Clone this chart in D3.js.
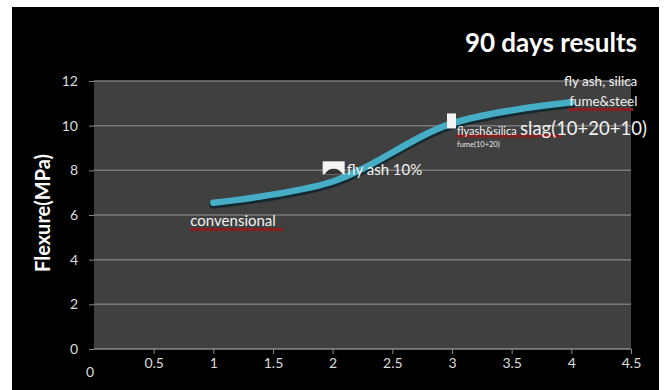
<!DOCTYPE html>
<html>
<head>
<meta charset="utf-8">
<script src="https://cdn.jsdelivr.net/npm/d3@7"></script>
<style>
  html, body { margin: 0; padding: 0; background: #fff; }
  svg { display: block; }
  text { font-family: Lato, "Open Sans", sans-serif; }
</style>
</head>
<body>
<div id="chart"></div>
<script>
// data
const xValues = [1, 2, 3, 4];
const flexure = [6.55, 7.5, 10.1, 11.05];
const pointLabels = ["convensional", "fly ash 10%", "flyash&silica", "fly ash, silica"];
const xTicks = [0.5, 1, 1.5, 2, 2.5, 3, 3.5, 4, 4.5];
const yTicks = [0, 2, 4, 6, 8, 10, 12];

const W = 665, H = 390;
const svg = d3.select("#chart").append("svg")
    .attr("width", W)
    .attr("height", H);

// black panel
svg.append("rect")
    .attr("x", 12).attr("y", 7)
    .attr("width", 647).attr("height", H - 7)
    .attr("fill", "#000");

const x = d3.scaleLinear().domain([0, 4.5]).range([94, 631]);
const y = d3.scaleLinear().domain([0, 12]).range([349, 81]);

// plot area
svg.append("rect")
    .attr("x", x(0)).attr("y", y(12))
    .attr("width", x(4.5) - x(0)).attr("height", y(0) - y(12))
    .attr("fill", "#404040");

// gridlines
svg.append("g")
    .selectAll("line")
    .data(yTicks.filter(d => d > 0))
    .enter().append("line")
    .attr("x1", x(0)).attr("x2", x(4.5))
    .attr("y1", d => y(d)).attr("y2", d => y(d))
    .attr("stroke", "#7a7a7a")
    .attr("stroke-width", 1.5);

// y axis
const yAxis = svg.append("g")
    .attr("transform", "translate(" + x(0) + ",0)")
    .call(d3.axisLeft(y).tickValues(yTicks).tickSize(5).tickPadding(11));
yAxis.select(".domain").remove();
yAxis.selectAll("line").attr("stroke", "#888");
yAxis.selectAll("text")
    .attr("fill", "#dcdcdc")
    .style("font-size", "14px")
    .style("font-family", "Lato, sans-serif");

// x axis
const xAxis = svg.append("g")
    .attr("transform", "translate(0," + y(0) + ")")
    .call(d3.axisBottom(x).tickValues(xTicks).tickSize(5).tickPadding(4)
        .tickFormat(d3.format("")));
xAxis.select(".domain")
    .attr("d", "M" + x(0) + ",0H" + x(4.5))
    .attr("stroke", "#8a8a8a")
    .attr("stroke-width", 1.5);
xAxis.selectAll("line").attr("stroke", "#888");
xAxis.selectAll("text")
    .attr("fill", "#dcdcdc")
    .style("font-size", "14px")
    .style("font-family", "Lato, sans-serif");

// the lone "0" of the x axis sits lower
svg.append("text")
    .attr("x", x(0) - 4).attr("y", y(0) + 28)
    .attr("text-anchor", "middle")
    .attr("fill", "#dcdcdc")
    .style("font-size", "14px")
    .text("0");

// the curve
const pts = xValues.map((v, i) => [v, flexure[i]]);
const line = d3.line()
    .x(d => x(d[0]))
    .y(d => y(d[1]))
    .curve(d3.curveCatmullRom.alpha(0.5));

svg.append("path")
    .datum(pts)
    .attr("d", line)
    .attr("transform", "translate(0,2)")
    .attr("fill", "none")
    .attr("stroke", "#152a30")
    .attr("stroke-width", 8)
    .attr("stroke-linecap", "round");

svg.append("path")
    .datum(pts)
    .attr("d", line)
    .attr("fill", "none")
    .attr("stroke", "#45adc6")
    .attr("stroke-width", 6.5)
    .attr("stroke-linecap", "round");

// spell-check underlines
function squiggle(x0, x1, yy) {
    svg.append("rect")
        .attr("x", x0).attr("y", yy)
        .attr("width", x1 - x0).attr("height", 3)
        .attr("fill", "#8a1e1e");
}

// point 1 label
squiggle(x(1) - 23, x(1) + 70, 228);
svg.append("text")
    .attr("x", x(1) - 23).attr("y", y(flexure[0]) + 23)
    .attr("fill", "#f2f2f2")
    .style("font-size", "15px")
    .text(pointLabels[0]);

// point 2 marker + label
const m2x = x(2), m2y = y(8);
svg.append("rect")
    .attr("x", m2x - 10).attr("y", m2y - 9)
    .attr("width", 22).attr("height", 13)
    .attr("fill", "#f4f4f4");
svg.append("path")
    .attr("d", "M" + (m2x - 8) + "," + (m2y + 4) + " A10,10 0 0 1 " + (m2x + 10) + "," + (m2y + 4) + " Z")
    .attr("fill", "#333");
svg.append("text")
    .attr("x", m2x + 14).attr("y", m2y + 5)
    .attr("fill", "#f2f2f2")
    .style("font-size", "15px")
    .text(pointLabels[1]);

// point 3 marker + label
const m3x = x(3), m3y = y(10.1);
svg.append("rect")
    .attr("x", m3x - 5).attr("y", m3y - 10)
    .attr("width", 9).attr("height", 15)
    .attr("fill", "#f4f4f4");
squiggle(m3x + 4, m3x + 110, m3y + 11);
svg.append("text")
    .attr("x", m3x + 5).attr("y", m3y + 12)
    .attr("fill", "#f2f2f2")
    .style("font-size", "11px")
    .text(pointLabels[2]);
svg.append("text")
    .attr("x", m3x + 68).attr("y", m3y + 12)
    .attr("fill", "#f2f2f2")
    .style("font-size", "18.5px")
    .text("slag(10+20+10)");
svg.append("text")
    .attr("x", m3x + 5).attr("y", m3y + 24)
    .attr("fill", "#e6e6e6")
    .style("font-size", "7.5px")
    .text("fume(10+20)");

// point 4 label
squiggle(x(4) - 3, x(4) + 62, 108);
svg.append("text")
    .attr("x", x(4) + 66).attr("y", y(12) + 5)
    .attr("text-anchor", "end")
    .attr("fill", "#f2f2f2")
    .style("font-size", "13.5px")
    .text(pointLabels[3]);
svg.append("text")
    .attr("x", x(4) + 66).attr("y", y(12) + 25)
    .attr("text-anchor", "end")
    .attr("fill", "#f2f2f2")
    .style("font-size", "13.5px")
    .text("fume&steel");

// title
svg.append("text")
    .attr("x", 637).attr("y", 52)
    .attr("text-anchor", "end")
    .attr("fill", "#fff")
    .style("font-size", "26px")
    .style("font-weight", "bold")
    .text("90 days results");

// y axis title
svg.append("text")
    .attr("transform", "translate(50,213) rotate(-90)")
    .attr("text-anchor", "middle")
    .attr("fill", "#fff")
    .style("font-size", "20px")
    .style("font-weight", "bold")
    .text("Flexure(MPa)");
</script>
</body>
</html>
